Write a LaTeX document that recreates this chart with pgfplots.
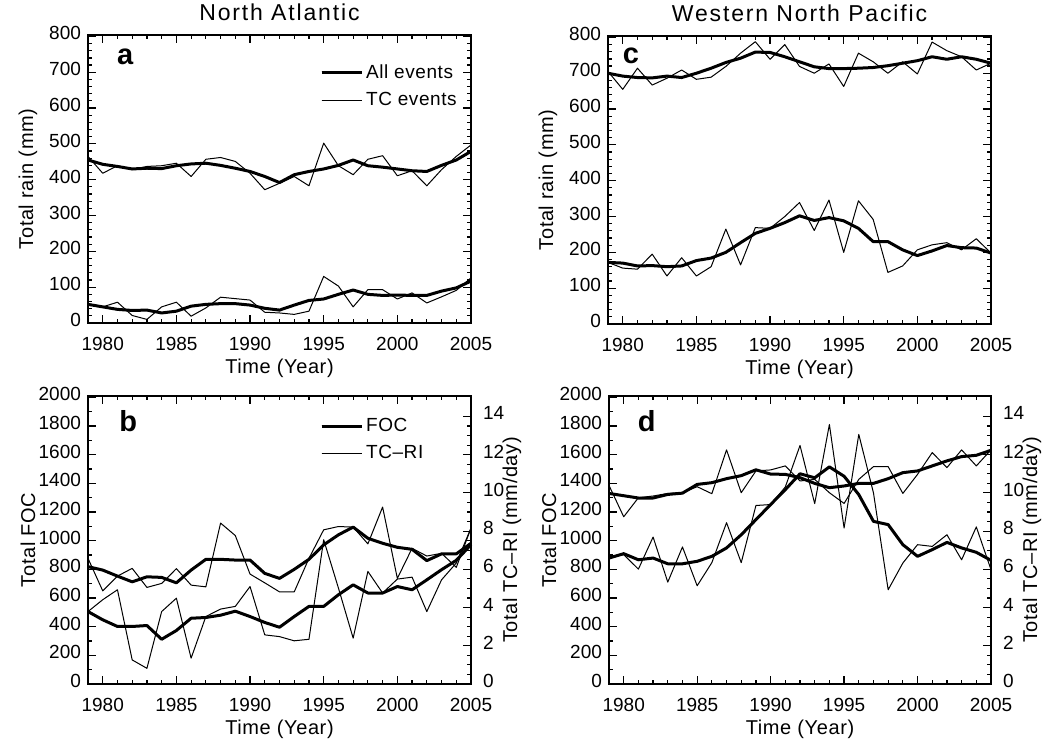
\documentclass[border=0pt]{standalone}
\usepackage{fontspec}
\setmainfont{Liberation Sans}
\newfontfamily\titlefont[LetterSpace=8]{Liberation Sans}
\newfontfamily\labfont[LetterSpace=3]{Liberation Sans}
\usepackage{pgfplots}
\usepackage{pgfplotstable}
\pgfplotsset{compat=1.18}

\pgfplotstableread{
year UK UT LK LT
1979 455 465 52 52
1980 443 418 45 45
1981 437 439 38 58
1982 430 428 35 21
1983 432 437 36 10
1984 431 439 28 45
1985 439 446 33 58
1986 444 409 47 19
1987 446 457 52 42
1988 440 462 54 72
1989 432 451 54 68
1990 423 418 50 64
1991 409 372 41 30
1992 392 390 36 28
1993 414 409 50 24
1994 423 383 63 33
1995 430 502 67 130
1996 440 439 80 103
1997 455 414 92 45
1998 439 457 80 93
1999 435 467 77 93
2000 430 411 78 67
2001 425 425 77 84
2002 423 383 77 56
2003 440 428 89 73
2004 455 465 98 91
2005 479 497 117 126
}\dataA

\pgfplotstableread{
year UK UT LK LT
1979 700 705 172 172
1980 692 655 170 156
1981 688 714 162 153
1982 687 667 163 195
1983 692 686 160 134
1984 688 709 162 185
1985 700 683 177 134
1986 714 689 184 160
1987 730 719 200 265
1988 742 756 227 165
1989 759 788 253 269
1990 758 739 267 267
1991 746 780 283 300
1992 732 719 302 339
1993 718 700 289 261
1994 713 726 297 346
1995 713 663 288 200
1996 714 756 267 344
1997 716 732 230 292
1998 721 700 230 144
1999 728 732 207 162
2000 735 698 191 207
2001 746 787 204 221
2002 739 763 219 227
2003 746 746 213 207
2004 739 709 212 238
2005 728 728 198 198
}\dataC

\pgfplotstableread{
year UK UT LK LT
1979 819 877 3.79 3.79
1980 795 650 3.36 4.41
1981 753 753 3.01 4.93
1982 713 807 3.01 1.26
1983 748 674 3.06 0.82
1984 744 702 2.34 3.79
1985 706 805 2.80 4.49
1986 795 690 3.44 1.35
1987 870 678 3.48 3.53
1988 870 1123 3.60 3.92
1989 865 1036 3.81 4.06
1990 865 767 3.53 5.10
1991 772 706 3.22 2.57
1992 737 643 2.97 2.48
1993 800 643 3.53 2.26
1994 870 877 4.06 2.34
1995 971 1076 4.06 7.55
1996 1041 1099 4.67 5.02
1997 1095 1095 5.19 2.40
1998 1017 978 4.76 5.89
1999 982 1235 4.76 4.76
2000 954 737 5.10 5.49
2001 940 947 4.93 5.59
2002 861 893 5.45 3.79
2003 908 912 5.98 5.45
2004 908 814 6.47 6.33
2005 982 1088 7.29 8.16
}\dataB

\pgfplotstableread{
year UK UT LK LT
1979 1330 1386 6.59 6.59
1980 1314 1167 6.82 6.77
1981 1298 1300 6.50 6.01
1982 1298 1312 6.59 7.69
1983 1323 1330 6.29 5.33
1984 1332 1335 6.29 7.17
1985 1393 1377 6.42 5.14
1986 1405 1328 6.68 6.35
1987 1433 1634 7.12 8.44
1988 1454 1335 7.81 6.35
1989 1495 1487 8.60 9.34
1990 1465 1494 9.39 9.39
1991 1463 1522 10.17 10.31
1992 1440 1417 11.00 12.48
1993 1400 1428 10.79 9.44
1994 1370 1335 11.36 13.58
1995 1382 1260 10.87 8.16
1996 1400 1428 9.91 13.06
1997 1400 1517 8.51 10.00
1998 1433 1517 8.34 4.93
1999 1475 1330 7.29 6.33
2000 1487 1463 6.68 7.29
2001 1522 1615 7.03 7.20
2002 1557 1510 7.41 7.81
2003 1587 1634 7.12 6.50
2004 1596 1522 6.89 8.22
2005 1631 1634 6.47 5.98
}\dataD

\tikzset{
  ttl/.style={font=\fontsize{11.5}{11.5}\titlefont},
  plet/.style={font=\fontsize{14.5}{14.5}\selectfont\bfseries},
}

\pgfplotsset{
  idl/.style={
    scale only axis, width=191.5pt, height=144pt,
    anchor=south west, clip=false,
    xmin=1979, xmax=2005,
    xtick={1980,1985,...,2005}, minor x tick num=4,
    tick align=inside,
    major tick length=4pt, minor tick length=2pt,
    axis line style={line width=0.8pt},
    every tick/.style={black, line width=0.6pt},
    tick label style={font=\fontsize{9.5}{9.5}\selectfont},
    xticklabel style={yshift=-3.5pt},
    yticklabel style={yshift=1.5pt},
    label style={font=\fontsize{10}{10}\labfont},
    /pgf/number format/assume math mode=true,
    /pgf/number format/set thousands separator={},
    scaled ticks=false,
    xlabel={Time (Year)},
    xlabel style={at={(axis description cs:0.5,-0.158)}, anchor=center},
    ylabel style={at={(axis description cs:-0.157,0.5)}, anchor=center},
    legend style={draw=none, fill=none, font=\fontsize{9.5}{9.5}\labfont, row sep=2.5pt, inner sep=0pt,
      nodes={inner sep=1.5pt}},
    legend cell align=left,
    legend image code/.code={\draw[#1] (0pt,0pt) -- (15pt,0pt); \path (0pt,0pt) -- (20pt,0pt);},
  },
  thickl/.style={black, line width=1.5pt, line join=round, no marks},
  thinl/.style={black, line width=0.5pt, line join=round, no marks},
  rightax/.style={
    scale only axis, width=191.5pt, height=144pt,
    anchor=south west, clip=false,
    xmin=1979, xmax=2005,
    axis x line=none, axis y line*=right,
    ymin=0, ymax=15.07, ytick={0,2,...,14}, minor y tick num=3,
    tick align=inside,
    major tick length=4pt, minor tick length=2pt,
    axis line style={line width=0.8pt},
    every tick/.style={black, line width=0.6pt},
    tick label style={font=\fontsize{9.5}{9.5}\selectfont},
    yticklabel style={xshift=2.5pt, yshift=1.5pt},
    label style={font=\fontsize{10}{10}\labfont},
    /pgf/number format/assume math mode=true,
    ylabel={Total TC–RI (mm/day)},
    ylabel style={at={(axis description cs:1.107,0.5)}, anchor=center},
  },
}

\begin{document}
\begin{tikzpicture}
\useasboundingbox (0,0) rectangle (523.5pt,371pt);

% panel a
\begin{axis}[idl, at={(44pt,209.5pt)},
  ymin=0, ymax=804, ytick={0,100,...,800}, minor y tick num=4,
  ylabel={Total rain (mm)},
  legend style={at={(axis description cs:0.605,0.91)}, anchor=north west}]
\addplot[thickl] table[x=year,y=UK]{\dataA};
\addlegendentry{All events}
\addplot[thinl] table[x=year,y=UT]{\dataA};
\addlegendentry{TC events}
\addplot[thickl, forget plot] table[x=year,y=LK]{\dataA};
\addplot[thinl, forget plot] table[x=year,y=LT]{\dataA};
\node[plet] at (axis description cs:0.097,0.925) {a};
\node[ttl] at (axis description cs:0.5,1.08) {North Atlantic};
\end{axis}

% panel c
\begin{axis}[idl, at={(304pt,209pt)},
  ymin=0, ymax=804, ytick={0,100,...,800}, minor y tick num=4,
  ylabel={Total rain (mm)}]
\addplot[thickl] table[x=year,y=UK]{\dataC};
\addplot[thinl] table[x=year,y=UT]{\dataC};
\addplot[thickl] table[x=year,y=LK]{\dataC};
\addplot[thinl] table[x=year,y=LT]{\dataC};
\node[plet] at (axis description cs:0.06,0.93) {c};
\node[ttl] at (axis description cs:0.5,1.08) {Western North Pacific};
\end{axis}

% panel b
\begin{axis}[idl, at={(44pt,29pt)},
  ymin=0, ymax=2010, ytick={0,200,...,2000}, minor y tick num=1,
  ytick pos=left,
  ylabel={Total FOC},
  legend style={at={(axis description cs:0.605,0.935)}, anchor=north west}]
\addplot[thickl] table[x=year,y=UK]{\dataB};
\addlegendentry{FOC}
\addplot[thinl] table[x=year,y=UT]{\dataB};
\addlegendentry{TC–RI}
\node[plet] at (axis description cs:0.105,0.914) {b};
\end{axis}
\begin{axis}[rightax, at={(44pt,29pt)}]
\addplot[thickl] table[x=year,y=LK]{\dataB};
\addplot[thinl] table[x=year,y=LT]{\dataB};
\end{axis}

% panel d
\begin{axis}[idl, at={(304.5pt,29pt)}, width=191pt,
  ymin=0, ymax=2010, ytick={0,200,...,2000}, minor y tick num=1,
  ytick pos=left,
  ylabel={Total FOC}]
\addplot[thickl] table[x=year,y=UK]{\dataD};
\addplot[thinl] table[x=year,y=UT]{\dataD};
\node[plet] at (axis description cs:0.099,0.911) {d};
\end{axis}
\begin{axis}[rightax, at={(304.5pt,29pt)}, width=191pt]
\addplot[thickl] table[x=year,y=LK]{\dataD};
\addplot[thinl] table[x=year,y=LT]{\dataD};
\end{axis}
\end{tikzpicture}
\end{document}
